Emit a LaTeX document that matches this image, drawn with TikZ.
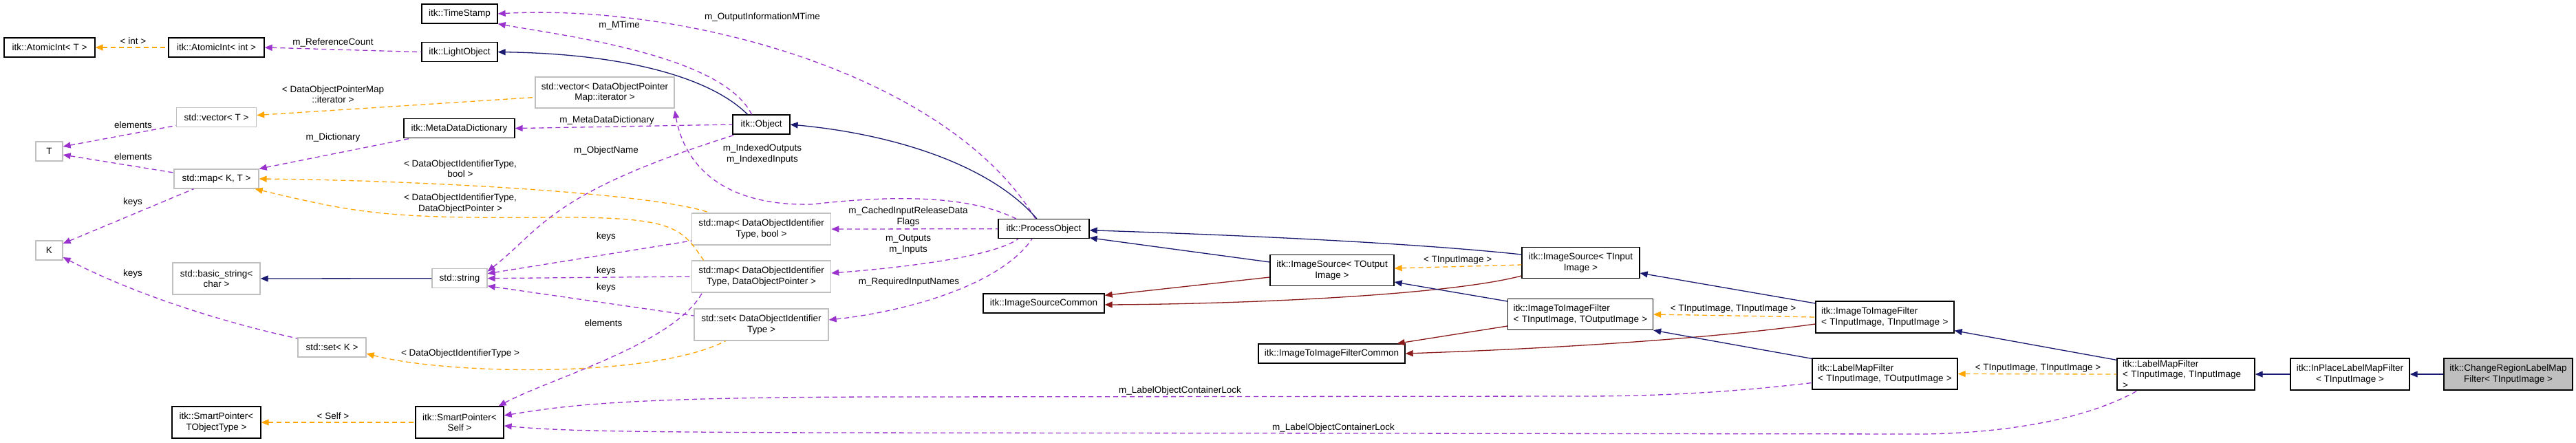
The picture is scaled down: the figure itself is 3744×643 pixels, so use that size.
\documentclass[tikz,border=0pt]{standalone}
\usepackage{fontspec}
\setmainfont{Liberation Sans}
\usetikzlibrary{arrows.meta}
\newcommand\dgfont{\fontsize{13.5}{15.5}\selectfont}
\definecolor{cpurple}{HTML}{9A32CD}
\definecolor{corange}{HTML}{FFA500}
\definecolor{cnavy}{HTML}{191970}
\definecolor{cred}{HTML}{8B1A1A}
\definecolor{cgray}{HTML}{BFBFBF}
\tikzset{
  every node/.style={font=\dgfont, inner sep=0pt},
  cls/.style={draw=black, line width=1.3pt, fill=white, align=center},
  ext/.style={draw=cgray, line width=1.3pt, fill=white, align=center},
  lbl/.style={align=center},
  tip/.style={{Triangle[length=11pt,width=9pt]}-},
  inh/.style={tip, draw=cnavy, line width=1.3pt},
  inhred/.style={tip, draw=cred, line width=1.3pt},
  usea/.style={tip, draw=cpurple, line width=1.3pt, dash pattern=on 7pt off 5pt},
  tmpl/.style={tip, draw=corange, line width=1.3pt, dash pattern=on 7pt off 5pt},
}
\begin{document}
\begin{tikzpicture}[x=1pt,y=-1pt]
\useasboundingbox (0,0) rectangle (3744,643);
% nodes
\node[cls, minimum width=132, minimum height=28] (atiT) at (72,69) {itk::AtomicInt< T >};
\node[cls, minimum width=139, minimum height=28] (atiint) at (314.5,69) {itk::AtomicInt< int >};
\node[cls, minimum width=110, minimum height=28] (ts) at (668,20) {itk::TimeStamp};
\node[cls, minimum width=110, minimum height=28] (lo) at (668,75.6) {itk::LightObject};
\node[ext, minimum width=202, minimum height=45] (vecdop) at (879,134.5) {std::vector< DataObjectPointer\\Map::iterator >};
\node[ext, minimum width=116, minimum height=28] (vecT) at (314.6,170.5) {std::vector< T >};
\node[cls, minimum width=161, minimum height=28] (mdd) at (667.5,186.6) {itk::MetaDataDictionary};
\node[ext, minimum width=39, minimum height=28] (T) at (71.5,220) {T};
\node[ext, minimum width=123, minimum height=28] (mapKT) at (314.5,260) {std::map< K, T >};
\node[ext, minimum width=39, minimum height=28] (K) at (71.5,364) {K};
\node[ext, minimum width=127, minimum height=46] (bstr) at (314.5,405) {std::basic\_string<\\char >};
\node[ext, minimum width=80, minimum height=28] (str) at (668,404.7) {std::string};
\node[ext, minimum width=99, minimum height=28] (setK) at (482.5,505) {std::set< K >};
\node[cls, minimum width=129, minimum height=46] (spT) at (314.5,614) {itk::SmartPointer<\\TObjectType >};
\node[cls, minimum width=128, minimum height=46] (spS) at (668,614) {itk::SmartPointer<\\Self >};
\node[cls, minimum width=83, minimum height=28] (obj) at (1106.5,181) {itk::Object};
\node[ext, minimum width=202, minimum height=46] (mapbool) at (1106.6,333) {std::map< DataObjectIdentifier\\Type, bool >};
\node[ext, minimum width=202, minimum height=46] (mapdop) at (1106.6,402) {std::map< DataObjectIdentifier\\Type, DataObjectPointer >};
\node[ext, minimum width=195, minimum height=46] (setdoi) at (1106.5,472) {std::set< DataObjectIdentifier\\Type >};
\node[cls, minimum width=132, minimum height=28] (po) at (1517,332.7) {itk::ProcessObject};
\node[cls, minimum width=176, minimum height=28] (isc) at (1517,441) {itk::ImageSourceCommon};
\node[cls, minimum width=180, minimum height=45] (isO) at (1936,393) {itk::ImageSource< TOutput\\Image >};
\node[cls, minimum width=171, minimum height=45] (isI) at (2297.5,382) {itk::ImageSource< TInput\\Image >};
\node[cls, minimum width=211, minimum height=45, align=left, text width=195] (itifO) at (2297,457) {itk::ImageToImageFilter\\< TInputImage, TOutputImage >};
\node[cls, minimum width=213, minimum height=28] (itifc) at (1935.5,514) {itk::ImageToImageFilterCommon};
\node[cls, minimum width=201, minimum height=46, align=left, text width=185] (itifI) at (2739.5,461) {itk::ImageToImageFilter\\< TInputImage, TInputImage >};
\node[cls, minimum width=211, minimum height=45, align=left, text width=195] (lmfO) at (2739.5,543.5) {itk::LabelMapFilter\\< TInputImage, TOutputImage >};
\node[cls, minimum width=200, minimum height=46, align=left, text width=184] (lmfI) at (3177,544) {itk::LabelMapFilter\\< TInputImage, TInputImage >};
\node[cls, minimum width=173, minimum height=46] (inpl) at (3415.5,544) {itk::InPlaceLabelMapFilter\\< TInputImage >};
\node[cls, minimum width=187, minimum height=46, fill=cgray] (crl) at (3645.5,544) {itk::ChangeRegionLabelMap\\Filter< TInputImage >};
% labels
\node[lbl] (l1) at (193.5,60) {< int >};
\node[lbl] (l2) at (484,62) {m\_ReferenceCount};
\node[lbl] (l3) at (900,37) {m\_MTime};
\node[lbl] (l4) at (1108,24.6) {m\_OutputInformationMTime};
\node[lbl] (l5) at (484,137) {< DataObjectPointerMap\\::iterator >};
\node[lbl] (l6) at (1108,224) {m\_IndexedOutputs\\m\_IndexedInputs};
\node[lbl] (l7) at (882,175) {m\_MetaDataDictionary};
\node[lbl] (l8) at (484,200) {m\_Dictionary};
\node[lbl] (l9) at (193.5,182) {elements};
\node[lbl] (l10) at (193.5,227.5) {elements};
\node[lbl] (l11) at (193,294) {keys};
\node[lbl] (l12) at (193,398) {keys};
\node[lbl] (l13) at (669,245) {< DataObjectIdentifierType,\\bool >};
\node[lbl] (l14) at (669,296) {< DataObjectIdentifierType,\\DataObjectPointer >};
\node[lbl] (l15) at (881,219) {m\_ObjectName};
\node[lbl] (l16) at (881,344) {keys};
\node[lbl] (l17) at (881,394) {keys};
\node[lbl] (l18) at (881,418) {keys};
\node[lbl] (l19) at (669,514) {< DataObjectIdentifierType >};
\node[lbl] (l20) at (877,470) {elements};
\node[lbl] (l21) at (1320,315) {m\_CachedInputReleaseData\\Flags};
\node[lbl] (l22) at (1320,355) {m\_Outputs\\m\_Inputs};
\node[lbl] (l23) at (1321,410) {m\_RequiredInputNames};
\node[lbl] (l24) at (484,604.5) {< Self >};
\node[lbl] (l25) at (1715,567.6) {m\_LabelObjectContainerLock};
\node[lbl] (l26) at (1938,621.8) {m\_LabelObjectContainerLock};
\node[lbl] (l27) at (2118.6,378.5) {< TInputImage >};
\node[lbl] (l28) at (2519,449) {< TInputImage, TInputImage >};
\node[lbl] (l29) at (2962,535) {< TInputImage, TInputImage >};
% edges
\draw[tmpl] (atiT.east) -- (atiint.west);
\draw[usea] (atiint.east) -- (lo.west);
\draw[usea] (ts.south east) .. controls (820,52) and (1050,80) .. ([xshift=-14]obj.north);
\draw[usea] (ts.east) .. controls (1000,5) and (1380,110) .. ([xshift=-12]po.north);
\draw[inh] (lo.east) .. controls (900,78) and (1030,110) .. ([xshift=-20]obj.north);
\draw[inh] (obj.east) .. controls (1300,195) and (1440,240) .. ([xshift=-10]po.north);
\draw[tmpl] ([yshift=3]vecT.east) -- ([yshift=-7]vecdop.west);
\draw[usea] ([yshift=-3]vecdop.south east) .. controls (995,240) and (1050,300) .. (1180,297) .. controls (1330,280) and (1420,290) .. ([xshift=-40]po.north);
\draw[usea] (mdd.east) -- (obj.west);
\draw[usea] (mapKT.north east) -- ([xshift=10]mdd.south west);
\draw[usea] ([yshift=7]T.east) -- ([yshift=-12]vecT.west);
\draw[usea] ([yshift=-5]T.east) -- ([yshift=9]mapKT.west);
\draw[usea] ([yshift=10]K.east) -- ([xshift=-33]mapKT.south);
\draw[usea] ([yshift=-10]K.east) .. controls (200,430) and (330,470) .. ([yshift=13]setK.west);
\draw[tmpl] (mapKT.east) .. controls (600,262) and (950,280) .. ([xshift=-75]mapbool.north);
\draw[tmpl] ([xshift=-6]mapKT.south east) .. controls (520,310) and (560,318) .. (800,316) .. controls (980,315) and (990,330) .. ([xshift=-84]mapdop.north);
\draw[usea] ([yshift=10]str.east) .. controls (790,330) and (800,280) .. ([xshift=5]obj.south west);
\draw[usea] ([yshift=7]str.east) -- ([yshift=-17]mapbool.west);
\draw[usea] (str.east) -- (mapdop.west);
\draw[usea] ([yshift=-11]str.east) -- ([yshift=13]setdoi.west);
\draw[inh] (bstr.east) -- (str.west);
\draw[tmpl] ([yshift=-9]setK.east) .. controls (650,545) and (950,550) .. ([xshift=-52]setdoi.south);
\draw[usea] ([xshift=-8]spS.north east) .. controls (800,550) and (980,500) .. ([xshift=-86]mapdop.south);
\draw[usea] (mapbool.east) -- (po.west);
\draw[usea] ([yshift=5]mapdop.east) .. controls (1300,390) and (1440,375) .. ([xshift=-37]po.south);
\draw[usea] ([yshift=7]setdoi.east) .. controls (1300,455) and (1450,420) .. ([xshift=-17]po.south);
\draw[tmpl] (spT.east) -- (spS.west);
\draw[usea] ([yshift=10]spS.east) .. controls (820,590) and (900,577) .. (1300,577) -- (2300,576) .. controls (2450,576) and (2560,565) .. ([yshift=-13]lmfO.west);
\draw[usea] ([yshift=-5]spS.east) .. controls (800,625) and (850,628) .. (1200,629) -- (2800,631) .. controls (2950,628) and (3050,600) .. ([xshift=-70]lmfI.south);
\draw[inh] ([yshift=-2]po.east) .. controls (1900,345) and (2100,358) .. ([yshift=12]isI.west);
\draw[inh] ([yshift=-13]po.east) -- ([yshift=12]isO.west);
\draw[inhred] ([yshift=-3]isc.north east) -- ([yshift=-10]isO.west);
\draw[inhred] ([yshift=-2]isc.east) .. controls (1800,442) and (2100,430) .. ([yshift=-19]isI.west);
\draw[tmpl] ([yshift=3]isO.east) -- ([yshift=-3]isI.west);
\draw[inh] ([yshift=-17]isO.east) -- ([yshift=19]itifO.west);
\draw[inhred] ([xshift=-12]itifc.north east) -- ([yshift=-17]itifO.west);
\draw[inhred] (itifc.east) .. controls (2300,505) and (2500,490) .. ([yshift=-10]itifI.west);
\draw[tmpl] (itifO.east) -- (itifI.west);
\draw[inh] ([yshift=-15]isI.east) -- ([yshift=20]itifI.west);
\draw[inh] (itifO.south east) -- ([yshift=-1]lmfO.north west);
\draw[inh] ([yshift=4]itifI.south east) -- ([yshift=-3]lmfI.north west);
\draw[tmpl] (lmfO.east) -- (lmfI.west);
\draw[inh] (lmfI.east) -- (inpl.west);
\draw[inh] (inpl.east) -- (crl.west);
\end{tikzpicture}
\end{document}
